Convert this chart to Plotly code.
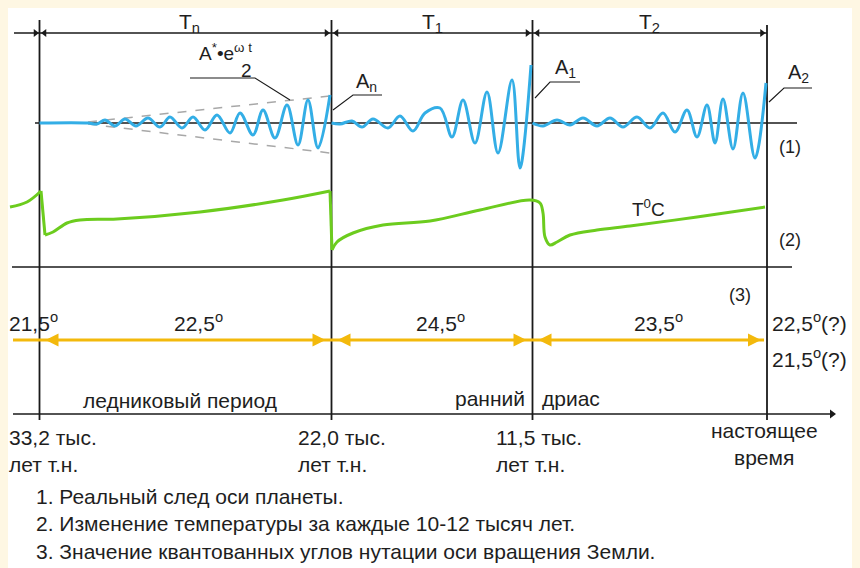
import plotly.graph_objects as go

# ---------------- data (schematic diagram units) ----------------
boundary_x = [39.5, 331.5, 532.5, 767]
boundary_lab1 = ["33,2 тыс.", "22,0 тыс.", "11,5 тыс.", "настоящее"]
boundary_lab2 = ["лет т.н.", "лет т.н.", "лет т.н.", "время"]
period_names = ["T<sub>n</sub>", "T<sub>1</sub>", "T<sub>2</sub>"]
period_angles = ["22,5", "24,5", "23,5"]
amp_names = ["A<sub>n</sub>", "A<sub>1</sub>", "A<sub>2</sub>"]

# oscillation (1): extrema positions and displacement from the axis
wave_n_x = [39.5, 88, 97, 105, 115, 125, 136, 148, 160, 170, 182, 193, 205, 217, 230, 240, 253, 263, 275, 287, 298, 308, 318, 330]
wave_n_d = [0, 0, -1, 3, -3, 4, -3, 5, -4, 6, -5, 6, -7, 8, -10, 10, -12, 13, -15, 18, -22, 23, -25, 28]
wave_1_x = [331.5, 340, 352, 362, 373, 388, 400, 413, 425, 440, 452, 463, 475, 487, 498, 512, 520, 531]
wave_1_d = [0, -1, 2, -4, 4, -5, 7, -8, 10, 15, -14, 23, -20, 31, -30, 43, -45, 58]
wave_2_x = [532.5, 543, 557, 570, 583, 597, 610, 623, 637, 650, 663, 675, 687, 697, 707, 715, 723, 733, 743, 755, 766]
wave_2_d = [0, -3, 3, -2, 5, -3, 5, -4, 6, -5, 10, -9, 13, -14, 18, -20, 24, -26, 30, -35, 40]

# envelope A*e^(wt) (dashed)
env_x = [88, 330]
env_up = [1, 27]
env_dn = [-1, -30]

# temperature (2), three smooth pieces
temp_a_x = [10, 27, 41]
temp_a_y = [207, 202, 191]
temp_b_x = [45, 53, 67, 80, 117, 200, 283, 330]
temp_b_y = [235, 232, 223, 220, 219, 212, 200, 191]
temp_c_x = [332, 337, 353, 383, 430, 480, 530, 540, 543, 545, 550, 557, 570, 597, 630, 697, 765]
temp_c_y = [250, 242, 233, 225, 221, 210, 200, 203, 213, 237, 245, 242, 235, 230, 226, 217, 207]

notes = ["1. Реальный след оси планеты.",
         "2. Изменение температуры за каждые 10-12 тысяч лет.",
         "3. Значение квантованных углов нутации оси вращения Земли."]

# ---------------- styling ----------------
W, H = 860, 568
OFF = 8  # page body margin
BLACK = "#1a1a1a"
BLUE = "#33aee6"
GREEN = "#6ccc1e"
YELLOW = "#f3b90c"
GREY = "#a8a8a8"
CREAM = "#fef7e3"
FONT = "Liberation Sans, Arial, sans-serif"
TXT = "#1e1e1e"
FS = 21
WAVE_BASE = 123
Y_TOP = 33
Y_ANG = 340
Y_AX = 414

fig = go.Figure()

def line(xs, ys, color=BLACK, width=1.5, dash=None, shape="linear"):
    fig.add_trace(go.Scatter(x=xs, y=ys, mode="lines", hoverinfo="skip",
                             line=dict(color=color, width=width, dash=dash, shape=shape)))

def heads(xs, ys, symbols, color, size):
    fig.add_trace(go.Scatter(x=xs, y=ys, mode="markers", hoverinfo="skip",
                             marker=dict(symbol=symbols, color=color, size=size,
                                         line=dict(width=0))))

# vertical boundary lines
for i, bx in enumerate(boundary_x):
    line([bx, bx], [20 if i < 3 else 25, 420], BLACK, 1.8)

# horizontal reference lines
line([35, 797], [WAVE_BASE, WAVE_BASE], BLACK, 1.6)
line([12, 792], [267, 267], BLACK, 1.6)
line([13, 830], [Y_AX, Y_AX], BLACK, 1.6)
heads([832], [Y_AX], ["triangle-right"], BLACK, 8)

# top dimension line with arrows
line([14, boundary_x[-1]], [Y_TOP, Y_TOP], BLACK, 1.4)
hx, hs = [], []
hx.append(boundary_x[0] - 4); hs.append("triangle-right")
for bx in boundary_x[:-1]:
    hx.append(bx + 5); hs.append("triangle-left")
for bx in boundary_x[1:]:
    hx.append(bx - 5); hs.append("triangle-right")
heads(hx, [Y_TOP] * len(hx), hs, BLACK, 7)

# envelope dashed lines
line(env_x, [WAVE_BASE - v for v in env_up], GREY, 1.5, "dash")
line(env_x, [WAVE_BASE - v for v in env_dn], GREY, 1.5, "dash")

# oscillation traces
for xs, ds in [(wave_n_x, wave_n_d), (wave_1_x, wave_1_d), (wave_2_x, wave_2_d)]:
    line(xs, [WAVE_BASE - d for d in ds], BLUE, 3, shape="spline")

# temperature traces
line([temp_a_x[-1], temp_b_x[0]], [temp_a_y[-1], temp_b_y[0]], GREEN, 3)
line([temp_b_x[-1], temp_c_x[0]], [temp_b_y[-1], temp_c_y[0]], GREEN, 3)
for xs, ys in [(temp_a_x, temp_a_y), (temp_b_x, temp_b_y), (temp_c_x, temp_c_y)]:
    line(xs, ys, GREEN, 3, shape="spline")

# angle (3) arrows
line([13, boundary_x[-1] - 3], [Y_ANG, Y_ANG], YELLOW, 3)
ax_, as_ = [], []
for bx in boundary_x[:-1]:
    ax_.append(bx + 6); as_.append("arrow-left")
for bx in boundary_x[1:]:
    ax_.append(bx - 6); as_.append("arrow-right")
heads(ax_, [Y_ANG] * len(ax_), as_, YELLOW, 13)

# leader lines for amplitude labels
line([190, 255, 290], [78, 78, 100], BLACK, 1.1)
line([382, 353, 333], [95, 95, 110], BLACK, 1.1)
line([580, 550, 535], [82, 82, 98], BLACK, 1.1)
line([812, 784, 769], [88, 88, 102], BLACK, 1.1)

# ---------------- text ----------------
ann = []
def txt(x, y, s, size=FS, xanchor="center", yanchor="middle", family=FONT):
    ann.append(dict(x=x, y=y, xref="x", yref="y", text=s, showarrow=False,
                    xanchor=xanchor, yanchor=yanchor, borderpad=0,
                    font=dict(family=family, size=size, color=TXT)))

for i, name in enumerate(period_names):
    txt((boundary_x[i] + boundary_x[i + 1]) / 2 + [4, 0, 0][i], 8.5, name, 21,
        yanchor="top")
txt(225, 52, "A<sup>*</sup>•e<sup>ω t</sup>", 19)
txt(246, 70, "2", 19)
txt(366, 82, amp_names[0], 20)
txt(565, 68, amp_names[1], 20)
txt(798, 73, amp_names[2], 20)
txt(790, 147, "(1)", 18)
txt(790, 240, "(2)", 18)
txt(740, 295, "(3)", 18)
txt(648, 208, "T<sup>0</sup>C", 19)

txt(8, 322, "21,5<sup>o</sup>", FS, "left")
for i, a in enumerate(period_angles):
    txt((boundary_x[i] + boundary_x[i + 1]) / 2 + [13, 8, 9][i], 322, a + "<sup>o</sup>", FS)
txt(771, 322, "22,5<sup>o</sup>(?)", FS, "left")
txt(771, 358, "21,5<sup>o</sup>(?)", FS, "left")

txt(180, 400, "ледниковый период", FS)
txt(526, 398, "ранний", FS, "right")
txt(541, 398, "дриас", FS, "left")

for i in range(3):
    x0 = [8, 297, 495][i]
    txt(x0, 437, boundary_lab1[i], FS, "left")
    txt(x0, 464, boundary_lab2[i], FS, "left")
txt(boundary_x[3] - 3, 430, boundary_lab1[3], FS)
txt(boundary_x[3] - 3, 457, boundary_lab2[3], FS)

for i, n in enumerate(notes):
    txt(35, 496 + 27.5 * i, n, FS, "left")

fig.update_layout(
    width=W, height=H, autosize=False,
    margin=dict(l=0, r=0, t=0, b=0),
    paper_bgcolor=CREAM, plot_bgcolor="rgba(0,0,0,0)",
    showlegend=False,
    xaxis=dict(range=[OFF, W + OFF], visible=False, fixedrange=True),
    yaxis=dict(range=[H + OFF, OFF], visible=False, fixedrange=True),
    shapes=[dict(type="rect", xref="x", yref="y", x0=8, x1=855, y0=4, y1=H + OFF,
                 fillcolor="white", line=dict(width=0), layer="below")],
    annotations=ann,
)
fig.write_html("out.html",
               post_script="document.body.style.backgroundColor='%s';" % CREAM)
